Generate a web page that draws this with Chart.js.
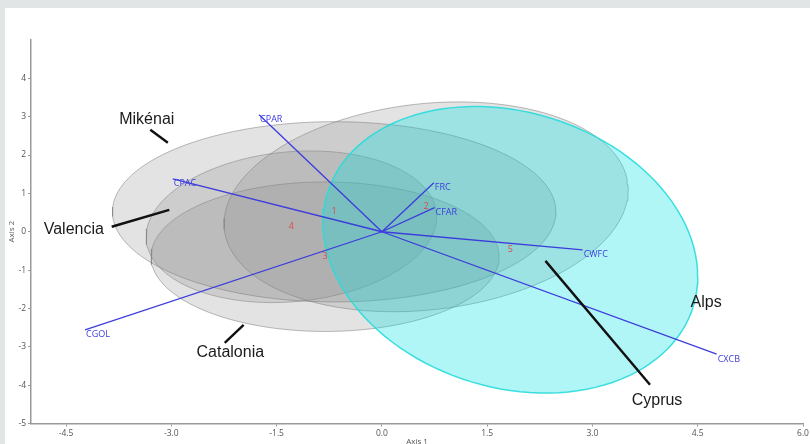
<!DOCTYPE html>
<html>
<head>
<meta charset="utf-8">
<script src="https://cdn.jsdelivr.net/npm/chart.js@4"></script>
<style>
    html, body { margin: 0; padding: 0; background: #e1e5e5; }
    body { width: 810px; height: 444px; overflow: hidden; position: relative; }
    #wrap { position: absolute; left: 5px; top: 8px; width: 805px; height: 436px; background: #fff; }
</style>
</head>
<body>
<div id="wrap"><canvas id="biplot"></canvas></div>
<script>
// Variable loadings (arrow tips)
const varNames = ['CPAR', 'CPAC', 'CGOL', 'FRC', 'CFAR', 'CWFC', 'CXCB'];
const varX = [-1.75, -2.98, -4.23, 0.74, 0.75, 2.86, 4.77];
const varY = [3.05, 1.38, -2.56, 1.28, 0.63, -0.47, -3.19];

// Group centroids
const groupIds = ['1', '2', '3', '4', '5'];
const groupX = [-0.68, 0.63, -0.81, -1.29, 1.83];
const groupY = [0.52, 0.65, -0.65, 0.13, -0.47];

// Ellipse around each centroid, given by two semi-diameters (u and v)
const ellUX = [3.16, 2.88, 2.48, 2.07, 2.67];
const ellUY = [0.00, 0.44, 0.00, 0.26, -0.70];
const ellVX = [0, 0, 0, 0, 0];
const ellVY = [2.35, 2.70, 1.95, 1.96, 3.67];

// Region labels and their leader lines
const regionNames = ['Mikénai', 'Valencia', 'Catalonia', 'Cyprus', 'Alps'];
const regionX = [-3.35, -4.39, -2.16, 3.92, 4.62];
const regionY = [2.92, 0.05, -3.16, -4.39, -1.85];
const leaderFromX = [-3.30, -3.85, -2.24, 3.82];
const leaderFromY = [2.66, 0.13, -2.90, -3.99];
const leaderToX = [-3.05, -3.03, -1.97, 2.33];
const leaderToY = [2.32, 0.57, -2.43, -0.76];

// Axis ticks
const xTicks = [-4.5, -3.0, -1.5, 0.0, 1.5, 3.0, 4.5, 6.0];
const yTicks = [-5, -4, -3, -2, -1, 0, 1, 2, 3, 4];

const datasets = [];

// ellipses (grey ones first, cyan last one on top)
groupIds.forEach((g, i) => {
    const pts = [];
    for (let k = 0; k <= 120; k++) {
        const t = k / 120 * Math.PI * 2;
        pts.push({
            x: groupX[i] + ellUX[i] * Math.cos(t) + ellVX[i] * Math.sin(t),
            y: groupY[i] + ellUY[i] * Math.cos(t) + ellVY[i] * Math.sin(t)
        });
    }
    const cyan = i === 4;
    datasets.push({
        data: pts,
        showLine: true,
        fill: 'shape',
        backgroundColor: cyan ? 'rgba(0,226,226,0.31)' : 'rgba(135,135,135,0.23)',
        borderColor: cyan ? 'rgba(40,220,220,0.9)' : 'rgba(120,120,120,0.5)',
        borderWidth: cyan ? 1.5 : 1,
        pointRadius: 0,
        tension: 0,
        order: cyan ? 9 : 10
    });
});

// loading vectors
varNames.forEach((n, i) => {
    datasets.push({
        data: [{ x: 0, y: 0 }, { x: varX[i], y: varY[i] }],
        showLine: true,
        borderColor: '#3c3cdc',
        borderWidth: 1.3,
        pointRadius: 0,
        order: 2
    });
});

// leader lines
leaderFromX.forEach((v, i) => {
    datasets.push({
        data: [{ x: leaderFromX[i], y: leaderFromY[i] }, { x: leaderToX[i], y: leaderToY[i] }],
        showLine: true,
        borderColor: '#111',
        borderWidth: 2.4,
        pointRadius: 0,
        order: 1
    });
});

const labelPlugin = {
    id: 'biplotLabels',
    afterDatasetsDraw(chart) {
        const { ctx, scales: { x, y } } = chart;
        ctx.save();
        // variable names
        ctx.font = '9px "Open Sans", sans-serif';
        ctx.fillStyle = '#3c3ce0';
        ctx.textAlign = 'left';
        ctx.textBaseline = 'middle';
        varNames.forEach((n, i) => {
            ctx.fillText(n, x.getPixelForValue(varX[i]) + 1, y.getPixelForValue(varY[i]) + 5);
        });
        // group numbers
        ctx.fillStyle = '#e04848';
        ctx.textAlign = 'center';
        groupIds.forEach((g, i) => {
            ctx.fillText(g, x.getPixelForValue(groupX[i]), y.getPixelForValue(groupY[i]));
        });
        // region names
        ctx.fillStyle = '#1a1a1a';
        ctx.font = '16px "Liberation Sans", Arial, sans-serif';
        regionNames.forEach((r, i) => {
            ctx.fillText(r, x.getPixelForValue(regionX[i]), y.getPixelForValue(regionY[i]));
        });
        ctx.restore();
    }
};

new Chart(document.getElementById('biplot'), {
    type: 'scatter',
    data: { datasets: datasets },
    options: {
        responsive: true,
        maintainAspectRatio: false,
        animation: false,
        layout: { padding: { top: 32, right: 7, left: 0, bottom: 0 } },
        plugins: { legend: { display: false }, tooltip: { enabled: false } },
        scales: {
            x: {
                type: 'linear',
                min: -5,
                max: 6,
                afterBuildTicks: (s) => { s.ticks = xTicks.map(v => ({ value: v })); },
                afterFit: (s) => { s.height = 20.5; s.paddingLeft = 0; s.paddingRight = 0; },
                ticks: {
                    color: '#555',
                    font: { family: '"Open Sans", sans-serif', size: 8.5 },
                    padding: 2,
                    maxRotation: 0,
                    callback: (v) => Number(v).toFixed(1)
                },
                grid: { drawOnChartArea: false, drawTicks: true, tickLength: 3, color: '#999' },
                border: { display: true, color: '#999', width: 1.5 },
                title: {
                    display: true, text: 'Axis 1', color: '#555',
                    font: { family: '"Open Sans", sans-serif', size: 8 },
                    padding: { top: 0, bottom: -3 }
                }
            },
            y: {
                type: 'linear',
                min: -5,
                max: 5,
                afterBuildTicks: (s) => { s.ticks = yTicks.map(v => ({ value: v })); },
                afterFit: (s) => { s.width = 26; s.paddingTop = 0; s.paddingBottom = 0; },
                ticks: {
                    color: '#555',
                    font: { family: '"Open Sans", sans-serif', size: 8.5 },
                    padding: 2
                },
                grid: { drawOnChartArea: false, drawTicks: true, tickLength: 3, color: '#999' },
                border: { display: true, color: '#999', width: 1.5 },
                title: {
                    display: true, text: 'Axis 2', color: '#555',
                    font: { family: '"Open Sans", sans-serif', size: 8 },
                    padding: { top: 2, bottom: 0 }
                }
            }
        }
    },
    plugins: [labelPlugin]
});
</script>
</body>
</html>
